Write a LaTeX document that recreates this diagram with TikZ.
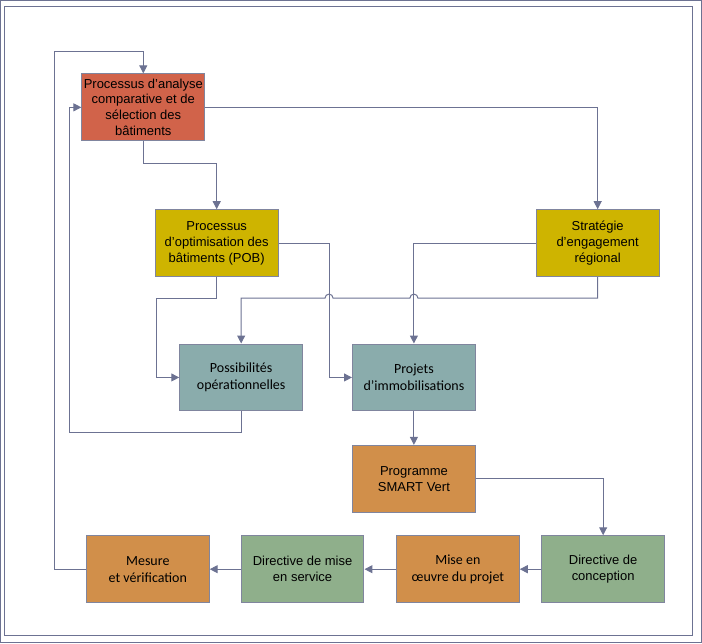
\documentclass[tikz,border=0pt]{standalone}
\usepackage{fontspec}
\setmainfont{Liberation Sans}
\newfontfamily\calibrifont{Carlito}
\usetikzlibrary{arrows.meta}
\definecolor{redfill}{RGB}{209,99,74}
\definecolor{goldfill}{RGB}{206,180,0}
\definecolor{tealfill}{RGB}{138,172,172}
\definecolor{tanfill}{RGB}{209,143,74}
\definecolor{greenfill}{RGB}{143,175,139}
\definecolor{boxline}{RGB}{128,133,158}
\definecolor{flowline}{RGB}{108,114,146}

\begin{document}
\begin{tikzpicture}[->,>={Triangle[width=8pt,length=8pt]},x=1pt,y=1pt,line width=1pt]
\tikzstyle{box}=[draw=boxline,minimum width=123pt,minimum height=67pt,inner sep=1pt,align=center,text=black,font=\fontsize{13}{16}\selectfont]
\tikzstyle{cbox}=[box,font=\calibrifont\fontsize{14}{17}\selectfont]
\tikzstyle{every path}=[draw=flowline]
\useasboundingbox (0,0) rectangle (702,-643);
\draw[-] (4,-6) rectangle (693,-636);
\node[box,fill=redfill] (analyse) at (143,-107) {Processus d’analyse\\comparative et de\\sélection des\\bâtiments};
\node[box,fill=goldfill] (pob) at (216.5,-243) {Processus\\d’optimisation des\\bâtiments (POB)};
\node[box,fill=goldfill] (strat) at (598,-243) {Stratégie\\d’engagement\\régional};
\node[cbox,fill=tealfill] (poss) at (241,-377.5) {Possibilités\\opérationnelles};
\node[cbox,fill=tealfill] (proj) at (414,-377.5) {Projets\\d’immobilisations};
\node[box,fill=tanfill] (smart) at (414,-479) {Programme\\SMART Vert};
\node[box,fill=greenfill] (concep) at (603.5,-569.5) {Directive de\\conception};
\node[cbox,fill=tanfill] (oeuvre) at (458,-569.5) {Mise en\\œuvre du projet};
\node[box,fill=greenfill] (service) at (302.5,-569.5) {Directive de mise\\en service};
\node[cbox,fill=tanfill] (mesure) at (147.5,-569.5) {Mesure\\et vérification};
\draw (analyse.east) -| (strat.north);
\draw (analyse.south) -- ++(0,-22) -| (pob.north);
\draw (pob.south) -- ++(0,-21) -- ++(-60,0) |- (poss.west);
\draw (strat.south) -- ++(0,-21) -- ++(-180,0) arc[start angle=0,end angle=180,radius=4]
      -- ++(-77,0) arc[start angle=0,end angle=180,radius=4] -| (poss.north);
\draw (pob.east) -- ++(51,0) |- (proj.west);
\draw (strat.west) -| (proj.north);
\draw (poss.south) -- ++(0,-21) -- ++(-172,0) |- (analyse.west);
\draw (proj.south) -- (smart.north);
\draw (smart.east) -| (concep.north);
\draw (concep.west) -- (oeuvre.east);
\draw (oeuvre.west) -- (service.east);
\draw (service.west) -- (mesure.east);
\draw (mesure.west) -- ++(-31,0) -- ++(0,518) -| (analyse.north);
\end{tikzpicture}
\end{document}
